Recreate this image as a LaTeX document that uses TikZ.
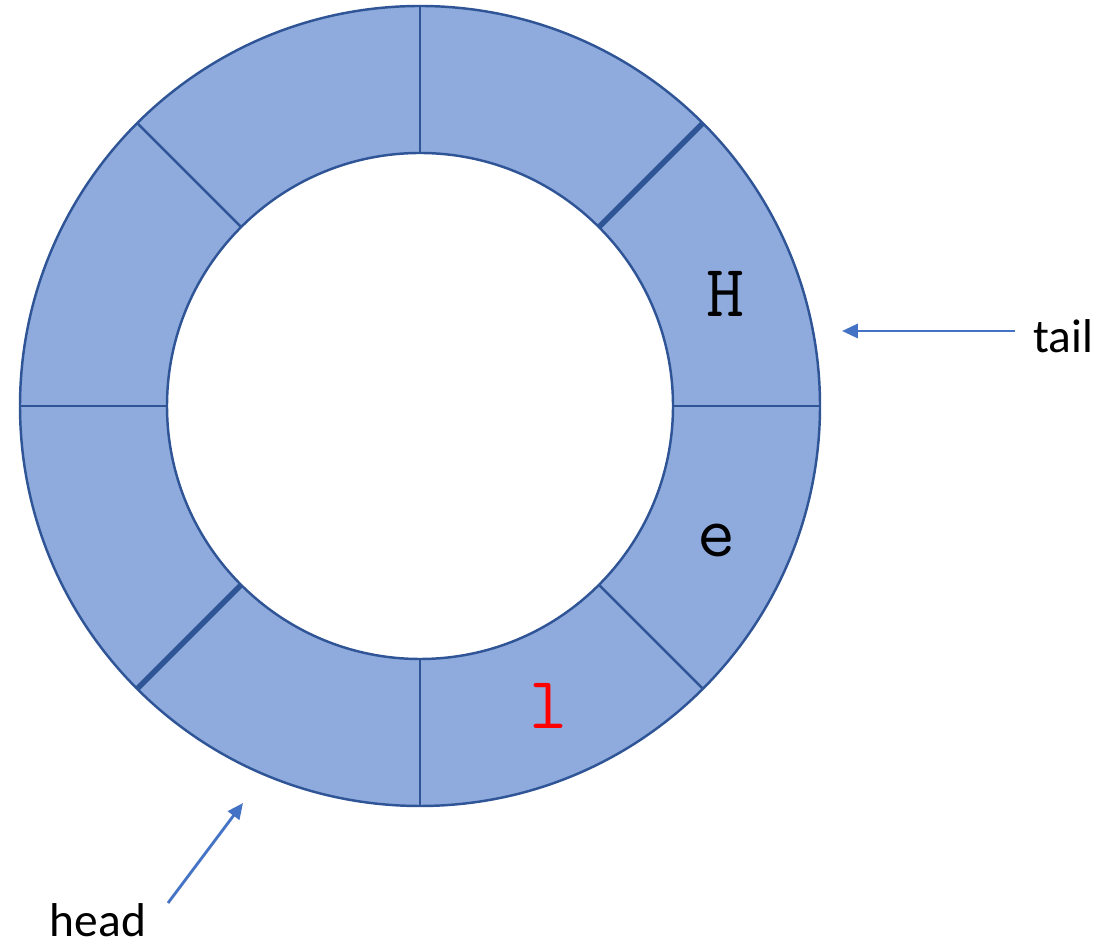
\documentclass[tikz,border=0pt]{standalone}
\usepackage{fontspec}
\setmainfont{Carlito}
\usepackage{tikz}
\usetikzlibrary{arrows.meta,calc}
\definecolor{RingFill}{HTML}{8FAADC}
\definecolor{RingEdge}{HTML}{2F5597}
\definecolor{PointerBlue}{HTML}{4472C4}

\begin{document}
\begin{tikzpicture}[>={Triangle[length=4.5pt,width=4pt]},
  cell/.style={font=\ttfamily\fontsize{21}{24}\selectfont},
  pointer/.style={->,PointerBlue,line width=0.8pt},
  tag/.style={font=\fontsize{13.5}{16}\selectfont,inner sep=1pt}]
  \useasboundingbox (0,0) rectangle (11,9.44);
  \coordinate (c) at (4.20,5.38);
  % ring buffer
  \fill[RingFill,even odd rule] (c) circle (4.00) (c) circle (2.53);
  \draw[RingEdge,line width=0.7pt] (c) circle (4.00);
  \draw[RingEdge,line width=0.7pt] (c) circle (2.53);
  \foreach \a in {0,90,135,180,-45,-90}
    \draw[RingEdge,line width=0.7pt] ($(c)+(\a:2.53)$) -- ($(c)+(\a:4.00)$);
  \foreach \a in {45,-135}
    \draw[RingEdge,line width=1.6pt] ($(c)+(\a:2.53)$) -- ($(c)+(\a:4.00)$);
  % contents
  \node[cell] (h) at (7.25,6.50) {H};
  \node[cell] (e) at (7.16,4.04) {e};
  \node[cell,red] (l) at (5.48,2.38) {l};
  % pointers
  \node[tag] (tail) at (10.63,6.08) {tail};
  \coordinate (tailfoot) at (10.15,6.13);
  \coordinate (tailtip) at (8.42,6.13);
  \draw[pointer] (tailfoot) -- (tailtip);
  \node[tag] (head) at (0.98,0.24) {head};
  \coordinate (headfoot) at (1.68,0.41);
  \coordinate (headtip) at (2.43,1.41);
  \draw[pointer] (headfoot) -- (headtip);
\end{tikzpicture}
\end{document}
